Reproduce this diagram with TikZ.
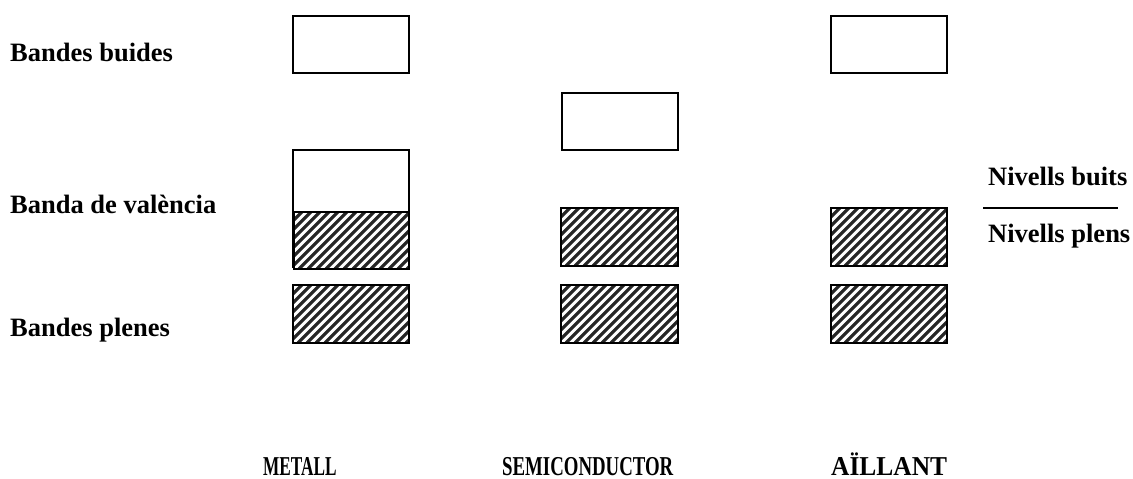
\documentclass[tikz,border=0pt]{standalone}
\usepackage{fontspec}
\setmainfont{Liberation Serif}
\usepackage{graphicx}
\tikzset{
  lbl/.style={inner sep=0pt, anchor=base west, font=\fontsize{26.5}{30}\selectfont\bfseries},
  emptybox/.style={draw, line width=1.8pt, fill=white, inner sep=0pt, anchor=north west},
  hatchbox/.style={draw, line width=1.8pt, fill=white, inner sep=0pt, anchor=north west,
    path picture={
      \foreach \i in {-130,-121,...,130}
        \draw[line width=3.2pt, black!85] ([xshift=\i pt]path picture bounding box.south west) -- ++(90pt,90pt);
    }},
  sep/.style={line width=1.6pt}
}
\begin{document}
\begin{tikzpicture}[x=1pt,y=-1pt]
\useasboundingbox (0,0) rectangle (1133,479);

% left labels
\node[lbl] (lbuides) at (10,61) {Bandes buides};
\node[lbl] (lval) at (10,213) {Banda de val\`encia};
\node[lbl] (lplenes) at (10,336) {Bandes plenes};

% metall
\node[emptybox, minimum width=116, minimum height=57] (m1) at (292,15) {};
\node[emptybox, minimum width=116, minimum height=117] (m2) at (292,149) {};
\node[hatchbox, minimum width=115, minimum height=57] (m2h) at (293,211) {};
\node[hatchbox, minimum width=116, minimum height=58] (m3) at (292,284) {};

% semiconductor
\node[emptybox, minimum width=116, minimum height=57] (s1) at (561,92) {};
\node[hatchbox, minimum width=117, minimum height=58] (s2) at (560,207) {};
\node[hatchbox, minimum width=117, minimum height=58] (s3) at (560,284) {};

% aillant
\node[emptybox, minimum width=116, minimum height=57] (a1) at (830,15) {};
\node[hatchbox, minimum width=116, minimum height=58] (a2) at (830,207) {};
\node[hatchbox, minimum width=116, minimum height=58] (a3) at (830,284) {};

% right legend
\node[lbl] (nbuits) at (988,185) {Nivells buits};
\node[lbl] (nplens) at (988,242) {Nivells plens};
\coordinate (sepL) at (983,208);
\coordinate (sepR) at (1118,208);
\draw[sep] (sepL) -- (sepR);

% bottom labels
\node[lbl] (tmet) at (263,475) {\scalebox{0.65}[1.03]{METALL}};
\node[lbl] (tsemi) at (502,475) {\scalebox{0.71}[1.03]{SEMICONDUCTOR}};
\node[lbl] (tail) at (831,475) {\scalebox{0.96}[1.03]{A\"ILLANT}};
\end{tikzpicture}
\end{document}
